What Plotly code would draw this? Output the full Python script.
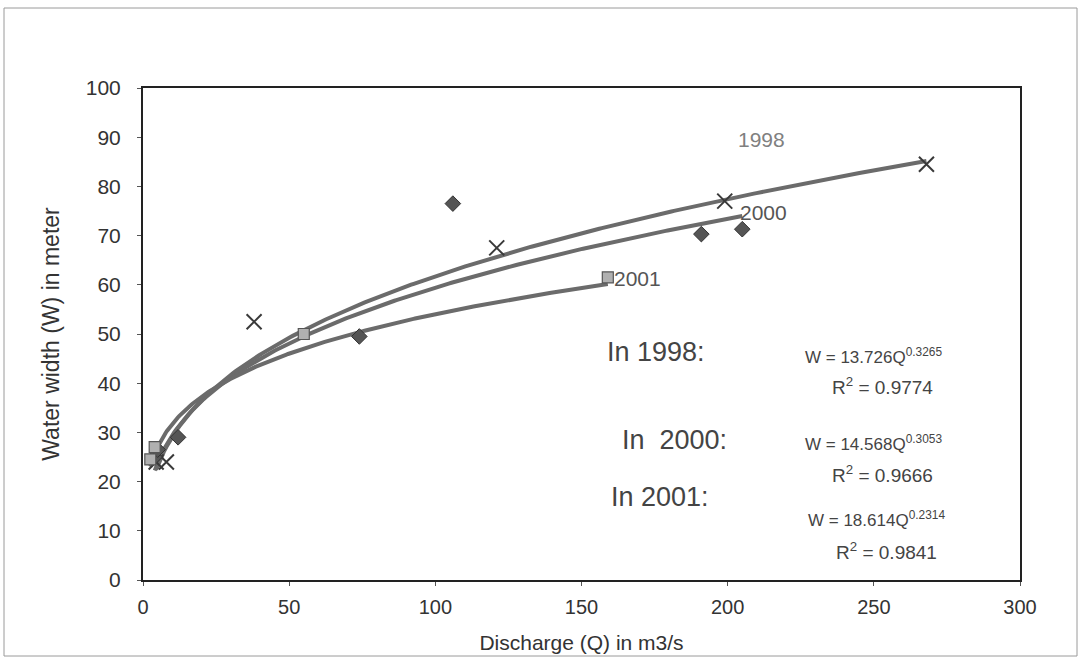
import numpy as np
import plotly.graph_objects as go

# ---- data ----
q_1998 = [4.5, 8, 38, 121, 199, 268]
w_1998 = [24.0, 24.0, 52.5, 67.5, 77.0, 84.5]

q_2000 = [4, 5, 12, 74, 106, 191, 205]
w_2000 = [25.0, 26.5, 29.0, 49.5, 76.5, 70.3, 71.3]

q_2001 = [2.5, 4, 55, 159]
w_2001 = [24.5, 27.0, 50.0, 61.5]

# power-law trendline coefficients shown on the chart: W = a * Q^b
fit_a = {"1998": 13.726, "2000": 14.568, "2001": 18.614}
fit_b = {"1998": 0.3265, "2000": 0.3053, "2001": 0.2314}
fit_r2 = {"1998": "0.9774", "2000": "0.9666", "2001": "0.9841"}

x_ticks = [0, 50, 100, 150, 200, 250, 300]
y_ticks = [0, 10, 20, 30, 40, 50, 60, 70, 80, 90, 100]

series = {
    "1998": (q_1998, w_1998),
    "2000": (q_2000, w_2000),
    "2001": (q_2001, w_2001),
}

fig = go.Figure()

LINE_COL = "#6b6b6b"
for name, (q, w) in series.items():
    qq = np.linspace(min(q), max(q), 300)
    ww = fit_a[name] * qq ** fit_b[name]
    fig.add_trace(go.Scatter(x=qq, y=ww, mode="lines",
                             line=dict(color=LINE_COL, width=4),
                             showlegend=False, hoverinfo="skip"))

fig.add_trace(go.Scatter(x=q_1998, y=w_1998, mode="markers", showlegend=False,
                         marker=dict(symbol="x-thin-open", size=15, color="#3a3a3a",
                                     line=dict(color="#3a3a3a", width=2))))
fig.add_trace(go.Scatter(x=q_2000, y=w_2000, mode="markers", showlegend=False,
                         marker=dict(symbol="diamond", size=12, color="#555555",
                                     line=dict(color="#333333", width=1))))
fig.add_trace(go.Scatter(x=q_2001, y=w_2001, mode="markers", showlegend=False,
                         marker=dict(symbol="square", size=11, color="#b0b0b0",
                                     line=dict(color="#555555", width=1.2))))

TXT = "#444444"
FONT = "Liberation Sans, Arial, sans-serif"
ann = []
def add(text, x, y, size=17, color=TXT, xanchor="left"):
    ann.append(dict(text=text, x=x, y=y, xref="x", yref="y", showarrow=False,
                    xanchor=xanchor, yanchor="middle",
                    font=dict(family=FONT, size=size, color=color)))

add("1998", 203.0, 89.6, size=21, color="#808080")
add("2000", 203.6, 74.7, size=21, color="#555555")
add("2001", 160.5, 61.3, size=21, color="#555555")
add("In 1998:", 158, 46.4, size=27)
add("W = 13.726Q<sup>0.3265</sup>", 225.8, 45.6)
add("R<sup>2</sup> = 0.9774", 253, 39.5, size=19, xanchor="center")
add("In  2000:", 163.2, 28.5, size=27)
add("W = 14.568Q<sup>0.3053</sup>", 225.8, 27.9)
add("R<sup>2</sup> = 0.9666", 253, 21.6, size=19, xanchor="center")
add("In 2001:", 159.4, 16.9, size=27)
add("W = 18.614Q<sup>0.2314</sup>", 226.8, 12.4)
add("R<sup>2</sup> = 0.9841", 254.5, 5.9, size=19, xanchor="center")

ml, mr, mt, mb = 143, 61, 88, 91
pw = 1081 - ml - mr
ph = 671 - mt - mb
shapes = [dict(type="rect", xref="paper", yref="paper",
               x0=(4 - ml) / pw, x1=(1077 - ml) / pw,
               y0=(671 - mb - 656) / ph, y1=(671 - mb - 8) / ph,
               line=dict(color="#9a9a9a", width=1), fillcolor="rgba(0,0,0,0)",
               layer="below")]

fig.update_layout(
    width=1081, height=671,
    margin=dict(l=ml, r=mr, t=mt, b=mb),
    paper_bgcolor="white", plot_bgcolor="white",
    font=dict(family=FONT, size=20, color="#333333"),
    annotations=ann, shapes=shapes,
    xaxis=dict(range=[0, 300], tickvals=x_ticks, showgrid=False, zeroline=False,
               showline=True, linecolor="#222222", linewidth=2, mirror=True,
               ticks="outside", ticklen=4, tickcolor="#555555",
               ticklabelstandoff=4,
               tickfont=dict(size=20, color="#333333"),
               title=dict(text="Discharge (Q) in m3/s", standoff=18,
                          font=dict(size=21, color="#333333"))),
    yaxis=dict(range=[0, 100], tickvals=y_ticks, showgrid=False, zeroline=False,
               showline=True, linecolor="#222222", linewidth=2, mirror=True,
               ticks="outside", ticklen=4, tickcolor="#555555",
               ticklabelstandoff=12,
               tickfont=dict(size=21, color="#333333"),
               title=dict(text="Water width (W) in meter", standoff=20,
                          font=dict(size=23, color="#333333"))),
)

fig.write_html("out.html")
